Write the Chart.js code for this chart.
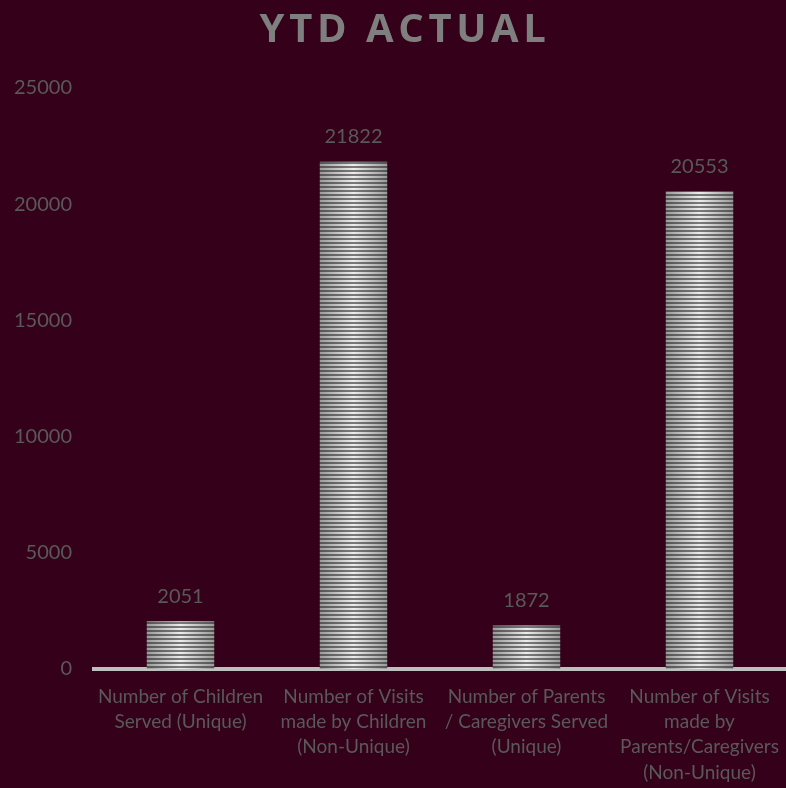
<!DOCTYPE html>
<html>
<head>
<meta charset="utf-8">
<script src="https://cdn.jsdelivr.net/npm/chart.js@4"></script>
<style>
  html, body { margin: 0; padding: 0; background: #35001a; }
  #wrap { position: relative; width: 786px; height: 788px; }
  #title {
    position: absolute; top: -1px; left: 0; width: 810px; text-align: center;
    font-family: "Open Sans", sans-serif; font-weight: bold; font-size: 40px;
    letter-spacing: 4.6px; color: #7f7f7f;
  }
</style>
</head>
<body>
<div id="wrap">
  <div id="title">YTD ACTUAL</div>
  <canvas id="chart" width="786" height="788"></canvas>
</div>
<script>
const categories = [
    ['Number of Children', 'Served (Unique)'],
    ['Number of Visits', 'made by Children', '(Non-Unique)'],
    ['Number of Parents', '/ Caregivers Served', '(Unique)'],
    ['Number of Visits', 'made by', 'Parents/Caregivers', '(Non-Unique)']
];
const ytdActual = [2051, 21822, 1872, 20553];
const yTicks = [0, 5000, 10000, 15000, 20000, 25000];

const FONT = 'Lato, "Open Sans", sans-serif';
const LABEL_COLOR = '#595959';
const BAR_PCT = 0.39;

// striped bar fill, shaded darker towards the edges
function stripedFill(ctx) {
    const chart = ctx.chart;
    const xScale = chart.scales.x;
    if (!xScale || !xScale.width) return '#bbbbbb';
    const w = Math.max(1, Math.round(xScale.width / categories.length * BAR_PCT));
    const left = xScale.getPixelForValue(ctx.dataIndex) - w / 2;
    const c = document.createElement('canvas');
    c.width = w;
    c.height = 4;
    const g = c.getContext('2d');
    const light = g.createLinearGradient(0, 0, w, 0);
    light.addColorStop(0, '#9a9a9a');
    light.addColorStop(0.5, '#ececec');
    light.addColorStop(1, '#9a9a9a');
    g.fillStyle = light;
    g.fillRect(0, 0, w, 4);
    const dark = g.createLinearGradient(0, 0, w, 0);
    dark.addColorStop(0, '#555555');
    dark.addColorStop(0.5, '#7a7a7a');
    dark.addColorStop(1, '#555555');
    g.fillStyle = dark;
    g.fillRect(0, 2, w, 2);
    const pattern = g.createPattern(c, 'repeat');
    pattern.setTransform(new DOMMatrix().translate(left, 0));
    return pattern;
}

const valueLabels = {
    id: 'valueLabels',
    afterDatasetsDraw(chart) {
        const ctx = chart.ctx;
        const meta = chart.getDatasetMeta(0);
        ctx.save();
        ctx.font = '20px ' + FONT;
        ctx.fillStyle = LABEL_COLOR;
        ctx.textAlign = 'center';
        ctx.textBaseline = 'bottom';
        meta.data.forEach((bar, i) => {
            ctx.fillText(String(ytdActual[i]), bar.x, bar.y - 15);
        });
        ctx.restore();
    }
};

const chartCtx = document.getElementById('chart').getContext('2d');
new Chart(chartCtx, {
    type: 'bar',
    data: {
        labels: categories,
        datasets: [{
            label: 'YTD Actual',
            data: ytdActual,
            backgroundColor: stripedFill,
            borderWidth: 0,
            barPercentage: BAR_PCT,
            categoryPercentage: 1
        }]
    },
    options: {
        responsive: false,
        animation: false,
        layout: { padding: { top: 88, left: 0, right: 0, bottom: 0 } },
        plugins: {
            legend: { display: false },
            tooltip: { enabled: false }
        },
        scales: {
            x: {
                grid: { display: false, drawTicks: false },
                border: { display: true, color: '#bfbfbf', width: 4 },
                afterFit: scale => {
                    scale.height = 119;
                    scale.paddingLeft = 0;
                    scale.paddingRight = 0;
                },
                ticks: {
                    color: LABEL_COLOR,
                    font: { family: FONT, size: 19, lineHeight: 1.33 },
                    padding: 15,
                    maxRotation: 0,
                    autoSkip: false
                }
            },
            y: {
                min: 0,
                max: 25000,
                afterBuildTicks: scale => {
                    scale.ticks = yTicks.map(v => ({ value: v }));
                },
                afterFit: scale => { scale.width = 94; },
                grid: { display: false, drawTicks: false },
                border: { display: false },
                ticks: {
                    color: LABEL_COLOR,
                    font: { family: FONT, size: 20 },
                    padding: 22,
                    callback: v => String(v)
                }
            }
        }
    },
    plugins: [valueLabels]
});
</script>
</body>
</html>
